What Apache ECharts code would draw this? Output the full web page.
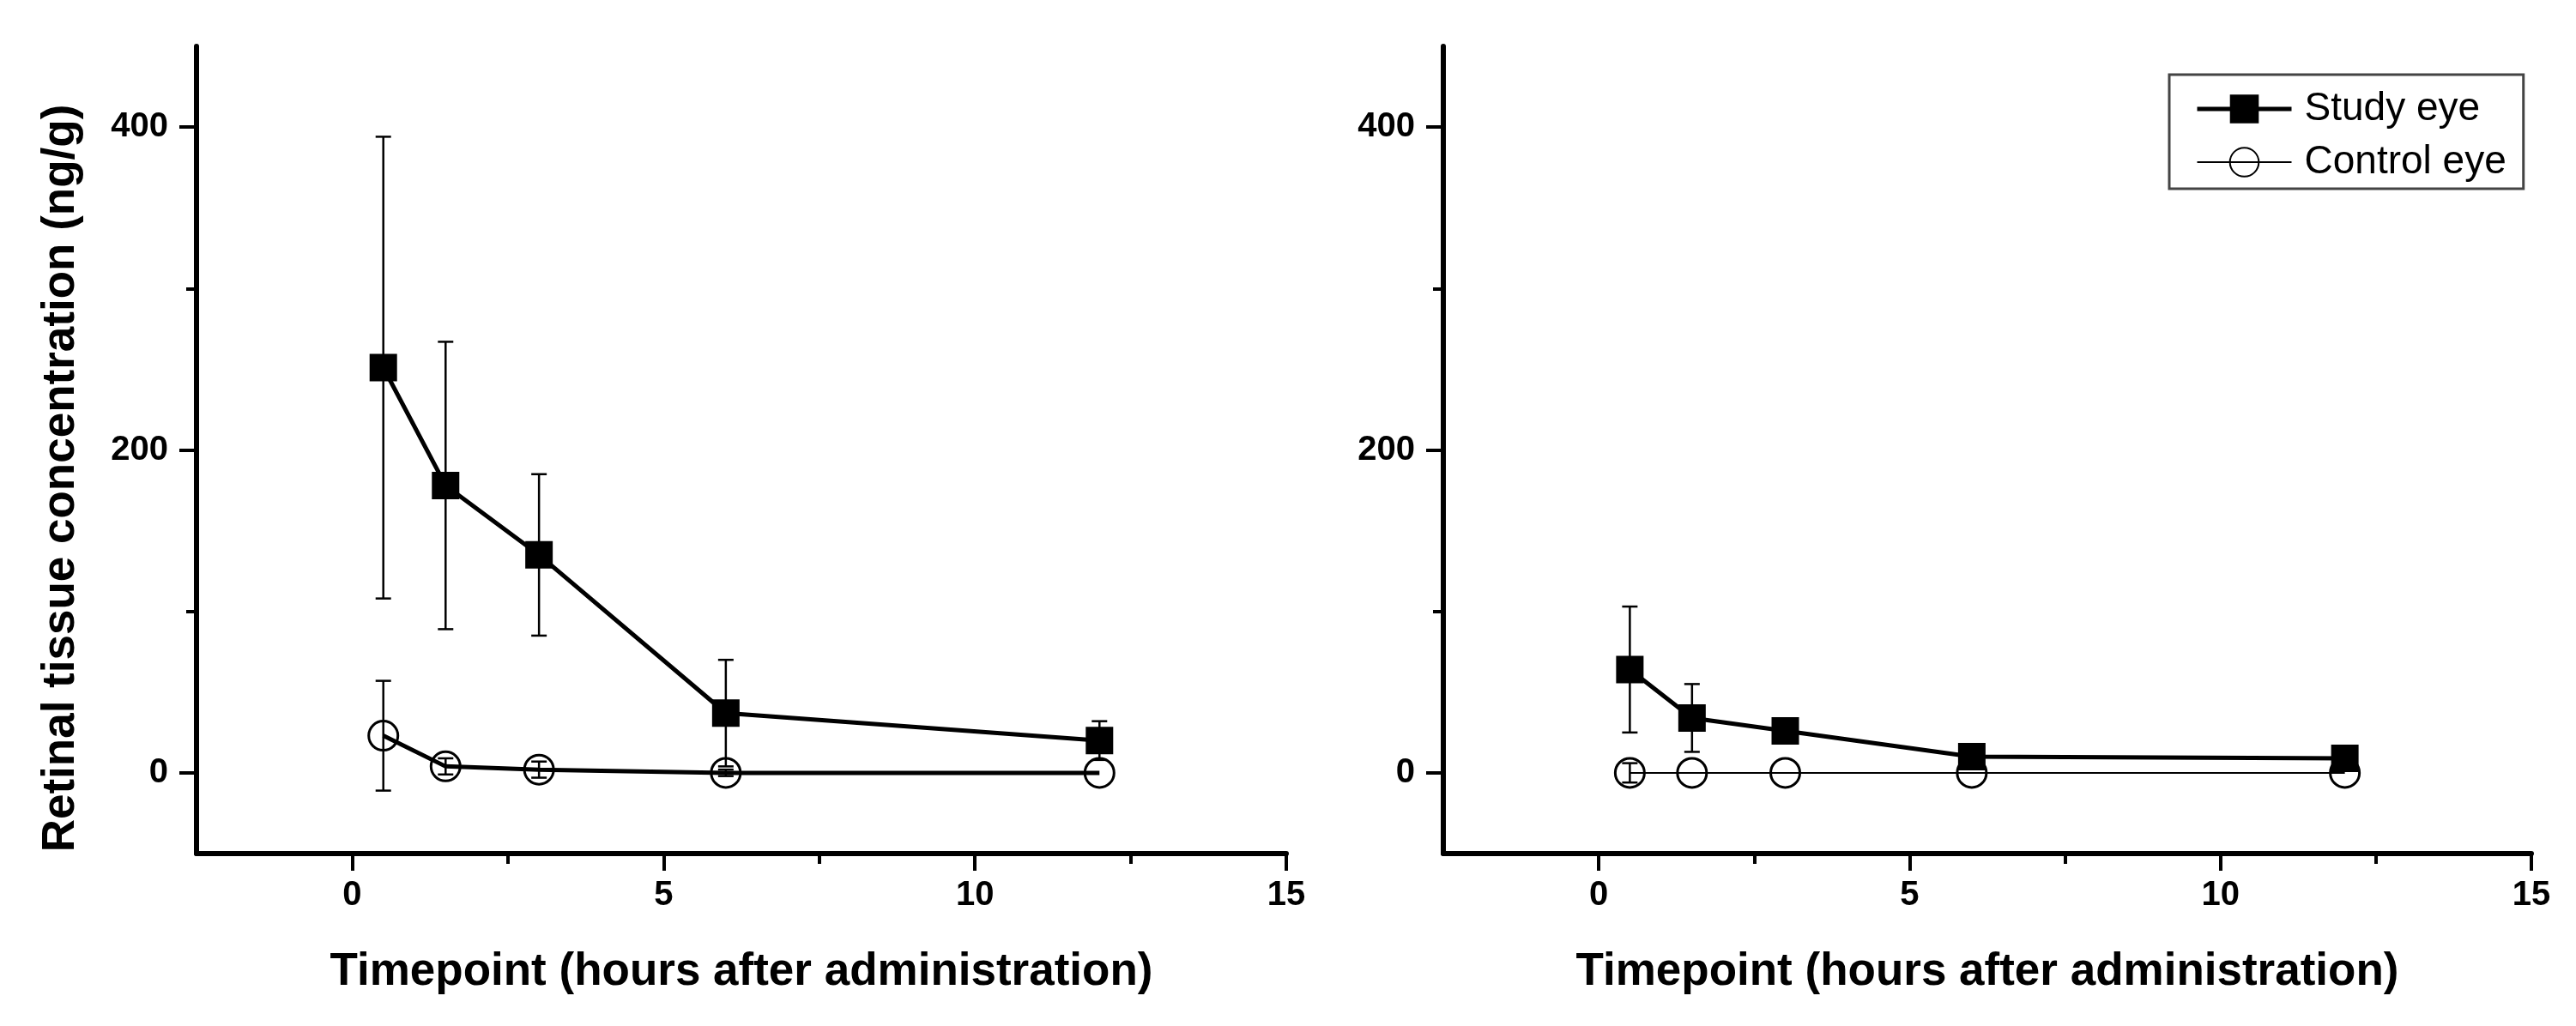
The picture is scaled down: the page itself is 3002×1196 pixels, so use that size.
<!DOCTYPE html>
<html><head><meta charset="utf-8">
<script src="https://cdn.jsdelivr.net/npm/echarts@6/dist/echarts.min.js"></script>
<style>html,body{margin:0;padding:0;background:#fff}#c{width:3002px;height:1196px}</style>
</head><body><div id="c"></div>
<script>
// ---- data ----
const timepoints = [0.5, 1.5, 3, 6, 12];
const leftStudy = [251, 178, 135, 37, 20];
const leftStudySD = [143, 89, 50, 33, 12];
const leftControl = [23, 4, 2, 0, 0];
const leftControlSD = [34, 5, 5, 2, 0];
const rightStudy = [64, 34, 26, 10, 9];
const rightStudySD = [39, 21, 0, 0, 0];
const rightControl = [0, 0, 0, 0, 0];
const rightControlSD = [6, 0, 0, 0, 0];
const xMajorTicks = [0, 5, 10, 15];
const xMinorTicks = [2.5, 7.5, 12.5];
const yMajorTicks = [0, 200, 400];
const yMinorTicks = [100, 300];
const seriesNames = ['Study eye', 'Control eye'];
const xTitle = 'Timepoint (hours after administration)';
const yTitle = 'Retinal tissue concentration (ng/g)';

const FONT = 'Liberation Sans';
const chart = echarts.init(document.getElementById('c'));

function pts(vals) { return timepoints.map((t, i) => [t, vals[i]]); }

function errorBars(xi, yi, means, sds) {
  const data = [];
  timepoints.forEach((t, i) => { if (sds[i] > 0) data.push([t, means[i] - sds[i], means[i] + sds[i]]); });
  return {
    type: 'custom', xAxisIndex: xi, yAxisIndex: yi, z: 1, silent: true,
    data: data, encode: { x: 0, y: [1, 2] },
    renderItem(params, api) {
      const lo = api.coord([api.value(0), api.value(1)]);
      const hi = api.coord([api.value(0), api.value(2)]);
      const w = 9;
      const st = { stroke: '#000', lineWidth: 2.5, fill: null };
      return { type: 'group', children: [
        { type: 'line', shape: { x1: hi[0], y1: hi[1], x2: lo[0], y2: lo[1] }, style: st },
        { type: 'line', shape: { x1: hi[0] - w, y1: hi[1], x2: hi[0] + w, y2: hi[1] }, style: st },
        { type: 'line', shape: { x1: lo[0] - w, y1: lo[1], x2: lo[0] + w, y2: lo[1] }, style: st }
      ]};
    }
  };
}

function studyLine(xi, yi, vals) {
  return { name: seriesNames[0], type: 'line', xAxisIndex: xi, yAxisIndex: yi, z: 3,
    data: pts(vals), symbol: 'rect', symbolSize: 32,
    itemStyle: { color: '#000' }, lineStyle: { color: '#000', width: 5 } };
}
function controlLine(xi, yi, vals, lw) {
  return { name: seriesNames[1], type: 'line', xAxisIndex: xi, yAxisIndex: yi, z: 2,
    data: pts(vals), symbol: 'circle', symbolSize: 34,
    itemStyle: { color: 'rgba(255,255,255,0)', borderColor: '#000', borderWidth: 3 },
    lineStyle: { color: '#000', width: lw } };
}

const labelStyle = { fontFamily: FONT, fontWeight: 'bold', fontSize: 40, color: '#000' };

function xAxes(gi) {
  return [
    { type: 'value', gridIndex: gi, position: 'bottom', min: -2.5, max: 15,
      name: xTitle, nameLocation: 'middle', nameGap: 112,
      nameTextStyle: { fontFamily: FONT, fontWeight: 'bold', fontSize: 53, color: '#000' },
      axisLine: { onZero: false, lineStyle: { color: '#000', width: 6 } },
      axisTick: { customValues: xMajorTicks, length: 20, lineStyle: { color: '#000', width: 4 } },
      axisLabel: { customValues: xMajorTicks, margin: 29, ...labelStyle },
      splitLine: { show: false } },
    { type: 'value', gridIndex: gi, position: 'bottom', offset: 0, min: -2.5, max: 15,
      axisLine: { show: false, onZero: false },
      axisTick: { customValues: xMinorTicks, length: 12, lineStyle: { color: '#000', width: 4 } },
      axisLabel: { show: false }, splitLine: { show: false } }
  ];
}
function yAxes(gi, withName) {
  const main = { type: 'value', gridIndex: gi, position: 'left', min: -50, max: 450,
      axisLine: { show: true, onZero: false, lineStyle: { color: '#000', width: 6 } },
      axisTick: { show: true, customValues: yMajorTicks, length: 20, lineStyle: { color: '#000', width: 4 } },
      axisLabel: { customValues: yMajorTicks, margin: 33, ...labelStyle },
      splitLine: { show: false } };
  if (withName) {
    main.name = yTitle; main.nameLocation = 'middle'; main.nameGap = 131;
    main.nameTextStyle = { fontFamily: FONT, fontWeight: 'bold', fontSize: 53, color: '#000', padding: [0, 66, 0, 0] };
  }
  return [ main,
    { type: 'value', gridIndex: gi, position: 'left', offset: 0, min: -50, max: 450,
      axisLine: { show: false, onZero: false },
      axisTick: { show: true, customValues: yMinorTicks, length: 12, lineStyle: { color: '#000', width: 4 } },
      axisLabel: { show: false }, splitLine: { show: false } }
  ];
}

chart.setOption({
  animation: false,
  backgroundColor: '#fff',
  grid: [
    { left: 229, top: 54, width: 1270, height: 941 },
    { left: 1682, top: 54, width: 1268, height: 941 }
  ],
  xAxis: [...xAxes(0), ...xAxes(1)],
  yAxis: [...yAxes(0, true), ...yAxes(1, false)],
  legend: {
    data: [
      { name: seriesNames[0], lineStyle: { width: 5, color: '#000' } },
      { name: seriesNames[1], lineStyle: { width: 2, color: '#000' } }
    ],
    orient: 'vertical', left: 2528, top: 87,
    itemWidth: 110, itemHeight: 42, itemGap: 16,
    padding: [17, 20, 8, 30], borderColor: '#444', borderWidth: 3,
    selectedMode: false,
    textStyle: { fontFamily: FONT, fontSize: 46, color: '#000', padding: [0, 0, 0, 10] }
  },
  series: [
    studyLine(2, 2, rightStudy),
    controlLine(2, 2, rightControl, 2),
    studyLine(0, 0, leftStudy),
    controlLine(0, 0, leftControl, 5),
    errorBars(0, 0, leftStudy, leftStudySD),
    errorBars(0, 0, leftControl, leftControlSD),
    errorBars(2, 2, rightStudy, rightStudySD),
    errorBars(2, 2, rightControl, rightControlSD)
  ]
});
</script></body></html>
